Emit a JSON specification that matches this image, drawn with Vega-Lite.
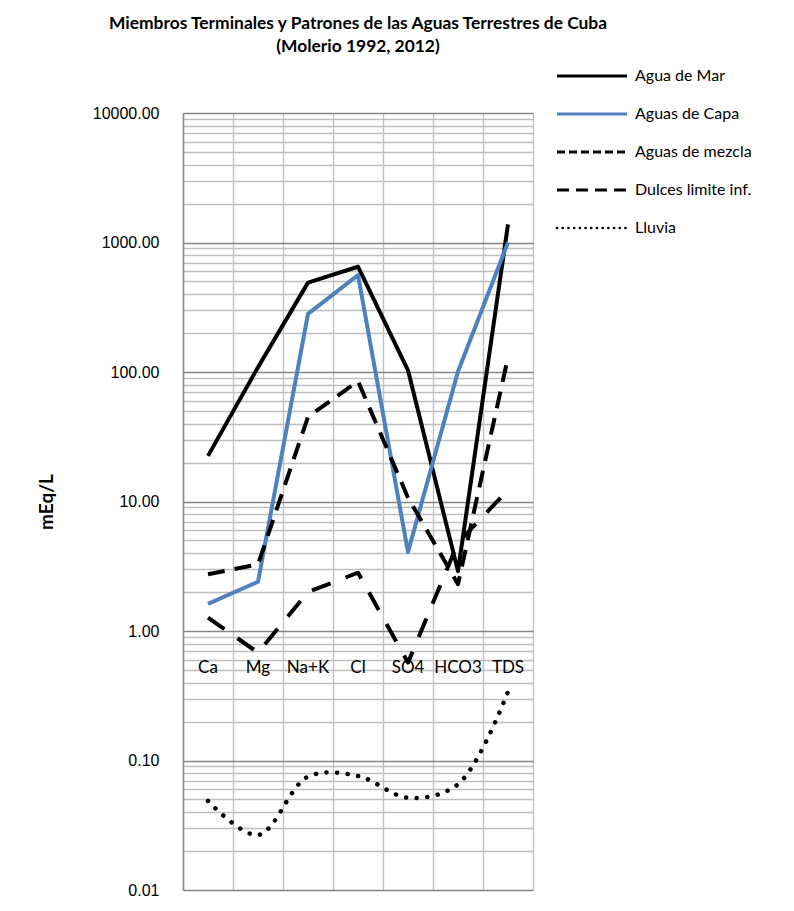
{
  "$schema": "https://vega.github.io/schema/vega-lite/v6.json",
  "width": 350,
  "height": 777,
  "padding": {"left": 37, "top": 14, "right": 5, "bottom": 5},
  "background": "white",
  "title": {
    "text": ["Miembros Terminales y Patrones de las Aguas Terrestres de Cuba", "(Molerio 1992, 2012)"],
    "font": "Lato", "fontSize": 17.4, "fontWeight": "bold", "lineHeight": 23,
    "anchor": "middle", "frame": "group", "offset": 13, "color": "black"
  },
  "config": {"view": {"stroke": null}},
  "data": {"values": [
    {"series": "Agua de Mar", "ion": "Ca", "idx": 0, "value": 22.5},
    {"series": "Agua de Mar", "ion": "Mg", "idx": 1, "value": 109},
    {"series": "Agua de Mar", "ion": "Na+K", "idx": 2, "value": 490},
    {"series": "Agua de Mar", "ion": "Cl", "idx": 3, "value": 650},
    {"series": "Agua de Mar", "ion": "SO4", "idx": 4, "value": 103},
    {"series": "Agua de Mar", "ion": "HCO3", "idx": 5, "value": 2.9},
    {"series": "Agua de Mar", "ion": "TDS", "idx": 6, "value": 1380},
    {"series": "Aguas de Capa", "ion": "Ca", "idx": 0, "value": 1.62},
    {"series": "Aguas de Capa", "ion": "Mg", "idx": 1, "value": 2.4},
    {"series": "Aguas de Capa", "ion": "Na+K", "idx": 2, "value": 281},
    {"series": "Aguas de Capa", "ion": "Cl", "idx": 3, "value": 560},
    {"series": "Aguas de Capa", "ion": "SO4", "idx": 4, "value": 4.07},
    {"series": "Aguas de Capa", "ion": "HCO3", "idx": 5, "value": 101},
    {"series": "Aguas de Capa", "ion": "TDS", "idx": 6, "value": 1000},
    {"series": "Aguas de mezcla", "ion": "Ca", "idx": 0, "value": 2.74},
    {"series": "Aguas de mezcla", "ion": "Mg", "idx": 1, "value": 3.27},
    {"series": "Aguas de mezcla", "ion": "Na+K", "idx": 2, "value": 45},
    {"series": "Aguas de mezcla", "ion": "Cl", "idx": 3, "value": 85},
    {"series": "Aguas de mezcla", "ion": "SO4", "idx": 4, "value": 10.7},
    {"series": "Aguas de mezcla", "ion": "HCO3", "idx": 5, "value": 2.3},
    {"series": "Aguas de mezcla", "ion": "TDS", "idx": 6, "value": 130},
    {"series": "Dulces limite inf.", "ion": "Ca", "idx": 0, "value": 1.27},
    {"series": "Dulces limite inf.", "ion": "Mg", "idx": 1, "value": 0.68},
    {"series": "Dulces limite inf.", "ion": "Na+K", "idx": 2, "value": 2.0},
    {"series": "Dulces limite inf.", "ion": "Cl", "idx": 3, "value": 2.82},
    {"series": "Dulces limite inf.", "ion": "SO4", "idx": 4, "value": 0.57},
    {"series": "Dulces limite inf.", "ion": "HCO3", "idx": 5, "value": 4.8},
    {"series": "Dulces limite inf.", "ion": "TDS", "idx": 6, "value": 12.3},
    {"series": "Lluvia", "ion": "Ca", "idx": 0, "value": 0.0487},
    {"series": "Lluvia", "ion": "Mg", "idx": 1, "value": 0.0266},
    {"series": "Lluvia", "ion": "Na+K", "idx": 2, "value": 0.075},
    {"series": "Lluvia", "ion": "Cl", "idx": 3, "value": 0.076},
    {"series": "Lluvia", "ion": "SO4", "idx": 4, "value": 0.0516},
    {"series": "Lluvia", "ion": "HCO3", "idx": 5, "value": 0.0656},
    {"series": "Lluvia", "ion": "TDS", "idx": 6, "value": 0.34}
  ]},
  "layer": [
    {
      "transform": [{"filter": "datum.series === 'Agua de Mar' || datum.series === 'Aguas de Capa'"}],
      "mark": {"type": "line", "strokeWidth": 4, "strokeCap": "butt", "strokeJoin": "round"},
      "encoding": {
        "x": {"field": "idx", "type": "quantitative",
          "scale": {"domain": [-0.5, 6.5], "nice": false, "zero": false},
          "axis": {"values": [-0.5, 0, 0.5, 1, 1.5, 2, 2.5, 3, 3.5, 4, 4.5, 5, 5.5, 6, 6.5],
            "labels": false, "ticks": false, "domain": false, "title": null,
            "grid": true, "gridColor": "#bfbfbf", "gridWidth": 1.3}},
        "y": {"field": "value", "type": "quantitative",
          "scale": {"type": "log", "domain": [0.01, 10000], "nice": false},
          "axis": {
            "values": [0.01, 0.02, 0.03, 0.04, 0.05, 0.06, 0.07, 0.08, 0.09,
              0.1, 0.2, 0.3, 0.4, 0.5, 0.6, 0.7, 0.8, 0.9,
              1, 2, 3, 4, 5, 6, 7, 8, 9,
              10, 20, 30, 40, 50, 60, 70, 80, 90,
              100, 200, 300, 400, 500, 600, 700, 800, 900,
              1000, 2000, 3000, 4000, 5000, 6000, 7000, 8000, 9000, 10000],
            "labelExpr": "indexof([0.01,0.1,1,10,100,1000,10000], datum.value) >= 0 ? format(datum.value, '.2f') : ''",
            "labelOverlap": false, "labelFlush": false,
            "ticks": false, "domainColor": "#868686", "domainWidth": 1.5,
            "grid": true,
            "gridColor": {"condition": {"test": "indexof([0.01,0.1,1,10,100,1000,10000], datum.value) >= 0", "value": "#868686"}, "value": "#bfbfbf"},
            "gridWidth": {"condition": {"test": "indexof([0.01,0.1,1,10,100,1000,10000], datum.value) >= 0", "value": 1.6}, "value": 1.3},
            "labelFont": "Liberation Sans", "labelFontSize": 16, "labelColor": "black", "labelPadding": 24,
            "title": "mEq/L", "titleFont": "Lato", "titleFontSize": 19, "titleFontWeight": "bold",
            "titlePadding": 36, "titleColor": "black"}},
        "color": {"field": "series", "type": "nominal",
          "scale": {"domain": ["Agua de Mar", "Aguas de Capa", "Aguas de mezcla", "Dulces limite inf.", "Lluvia"],
            "range": ["#000000", "#4f81bd", "#000000", "#000000", "#000000"]},
          "legend": {
            "orient": "none", "legendX": 429, "legendY": -45, "title": null,
            "symbolType": "M-9,0H1", "symbolSize": 196, "symbolStrokeWidth": 3,
            "labelFont": "Lato", "labelFontSize": 16, "labelColor": "black", "labelOffset": 7,
            "rowPadding": 22,
            "encode": {"symbols": {"update": {
              "strokeCap": {"signal": "datum.value === 'Lluvia' ? 'round' : 'butt'"},
              "strokeDash": {"signal": "datum.value === 'Aguas de mezcla' ? [8, 4] : datum.value === 'Dulces limite inf.' ? [12, 7] : datum.value === 'Lluvia' ? [0.1, 5.6] : [1, 0]"},
              "strokeWidth": {"signal": "datum.value === 'Lluvia' ? 2.6 : 3"}
            }}}
          }}
      }
    },
    {
      "transform": [{"filter": "datum.series === 'Aguas de mezcla'"}],
      "mark": {"type": "line", "strokeWidth": 4, "strokeCap": "butt", "strokeJoin": "round", "strokeDash": [17, 10]},
      "encoding": {
        "x": {"field": "idx", "type": "quantitative"},
        "y": {"field": "value", "type": "quantitative"},
        "color": {"field": "series", "type": "nominal"}
      }
    },
    {
      "transform": [{"filter": "datum.series === 'Dulces limite inf.'"}],
      "mark": {"type": "line", "strokeWidth": 4, "strokeCap": "butt", "strokeJoin": "round", "strokeDash": [20, 16]},
      "encoding": {
        "x": {"field": "idx", "type": "quantitative"},
        "y": {"field": "value", "type": "quantitative"},
        "color": {"field": "series", "type": "nominal"}
      }
    },
    {
      "transform": [{"filter": "datum.series === 'Lluvia'"}],
      "mark": {"type": "line", "strokeWidth": 4.5, "strokeCap": "round", "interpolate": "catmull-rom", "strokeDash": [0.1, 10.5]},
      "encoding": {
        "x": {"field": "idx", "type": "quantitative"},
        "y": {"field": "value", "type": "quantitative"},
        "color": {"field": "series", "type": "nominal"}
      }
    },
    {
      "transform": [{"filter": "datum.series === 'Agua de Mar'"}],
      "mark": {"type": "text", "font": "Lato", "fontSize": 17, "dy": 37, "baseline": "middle", "align": "center", "color": "black"},
      "encoding": {
        "x": {"field": "idx", "type": "quantitative"},
        "y": {"datum": 1, "type": "quantitative"},
        "text": {"field": "ion"}
      }
    }
  ]
}
